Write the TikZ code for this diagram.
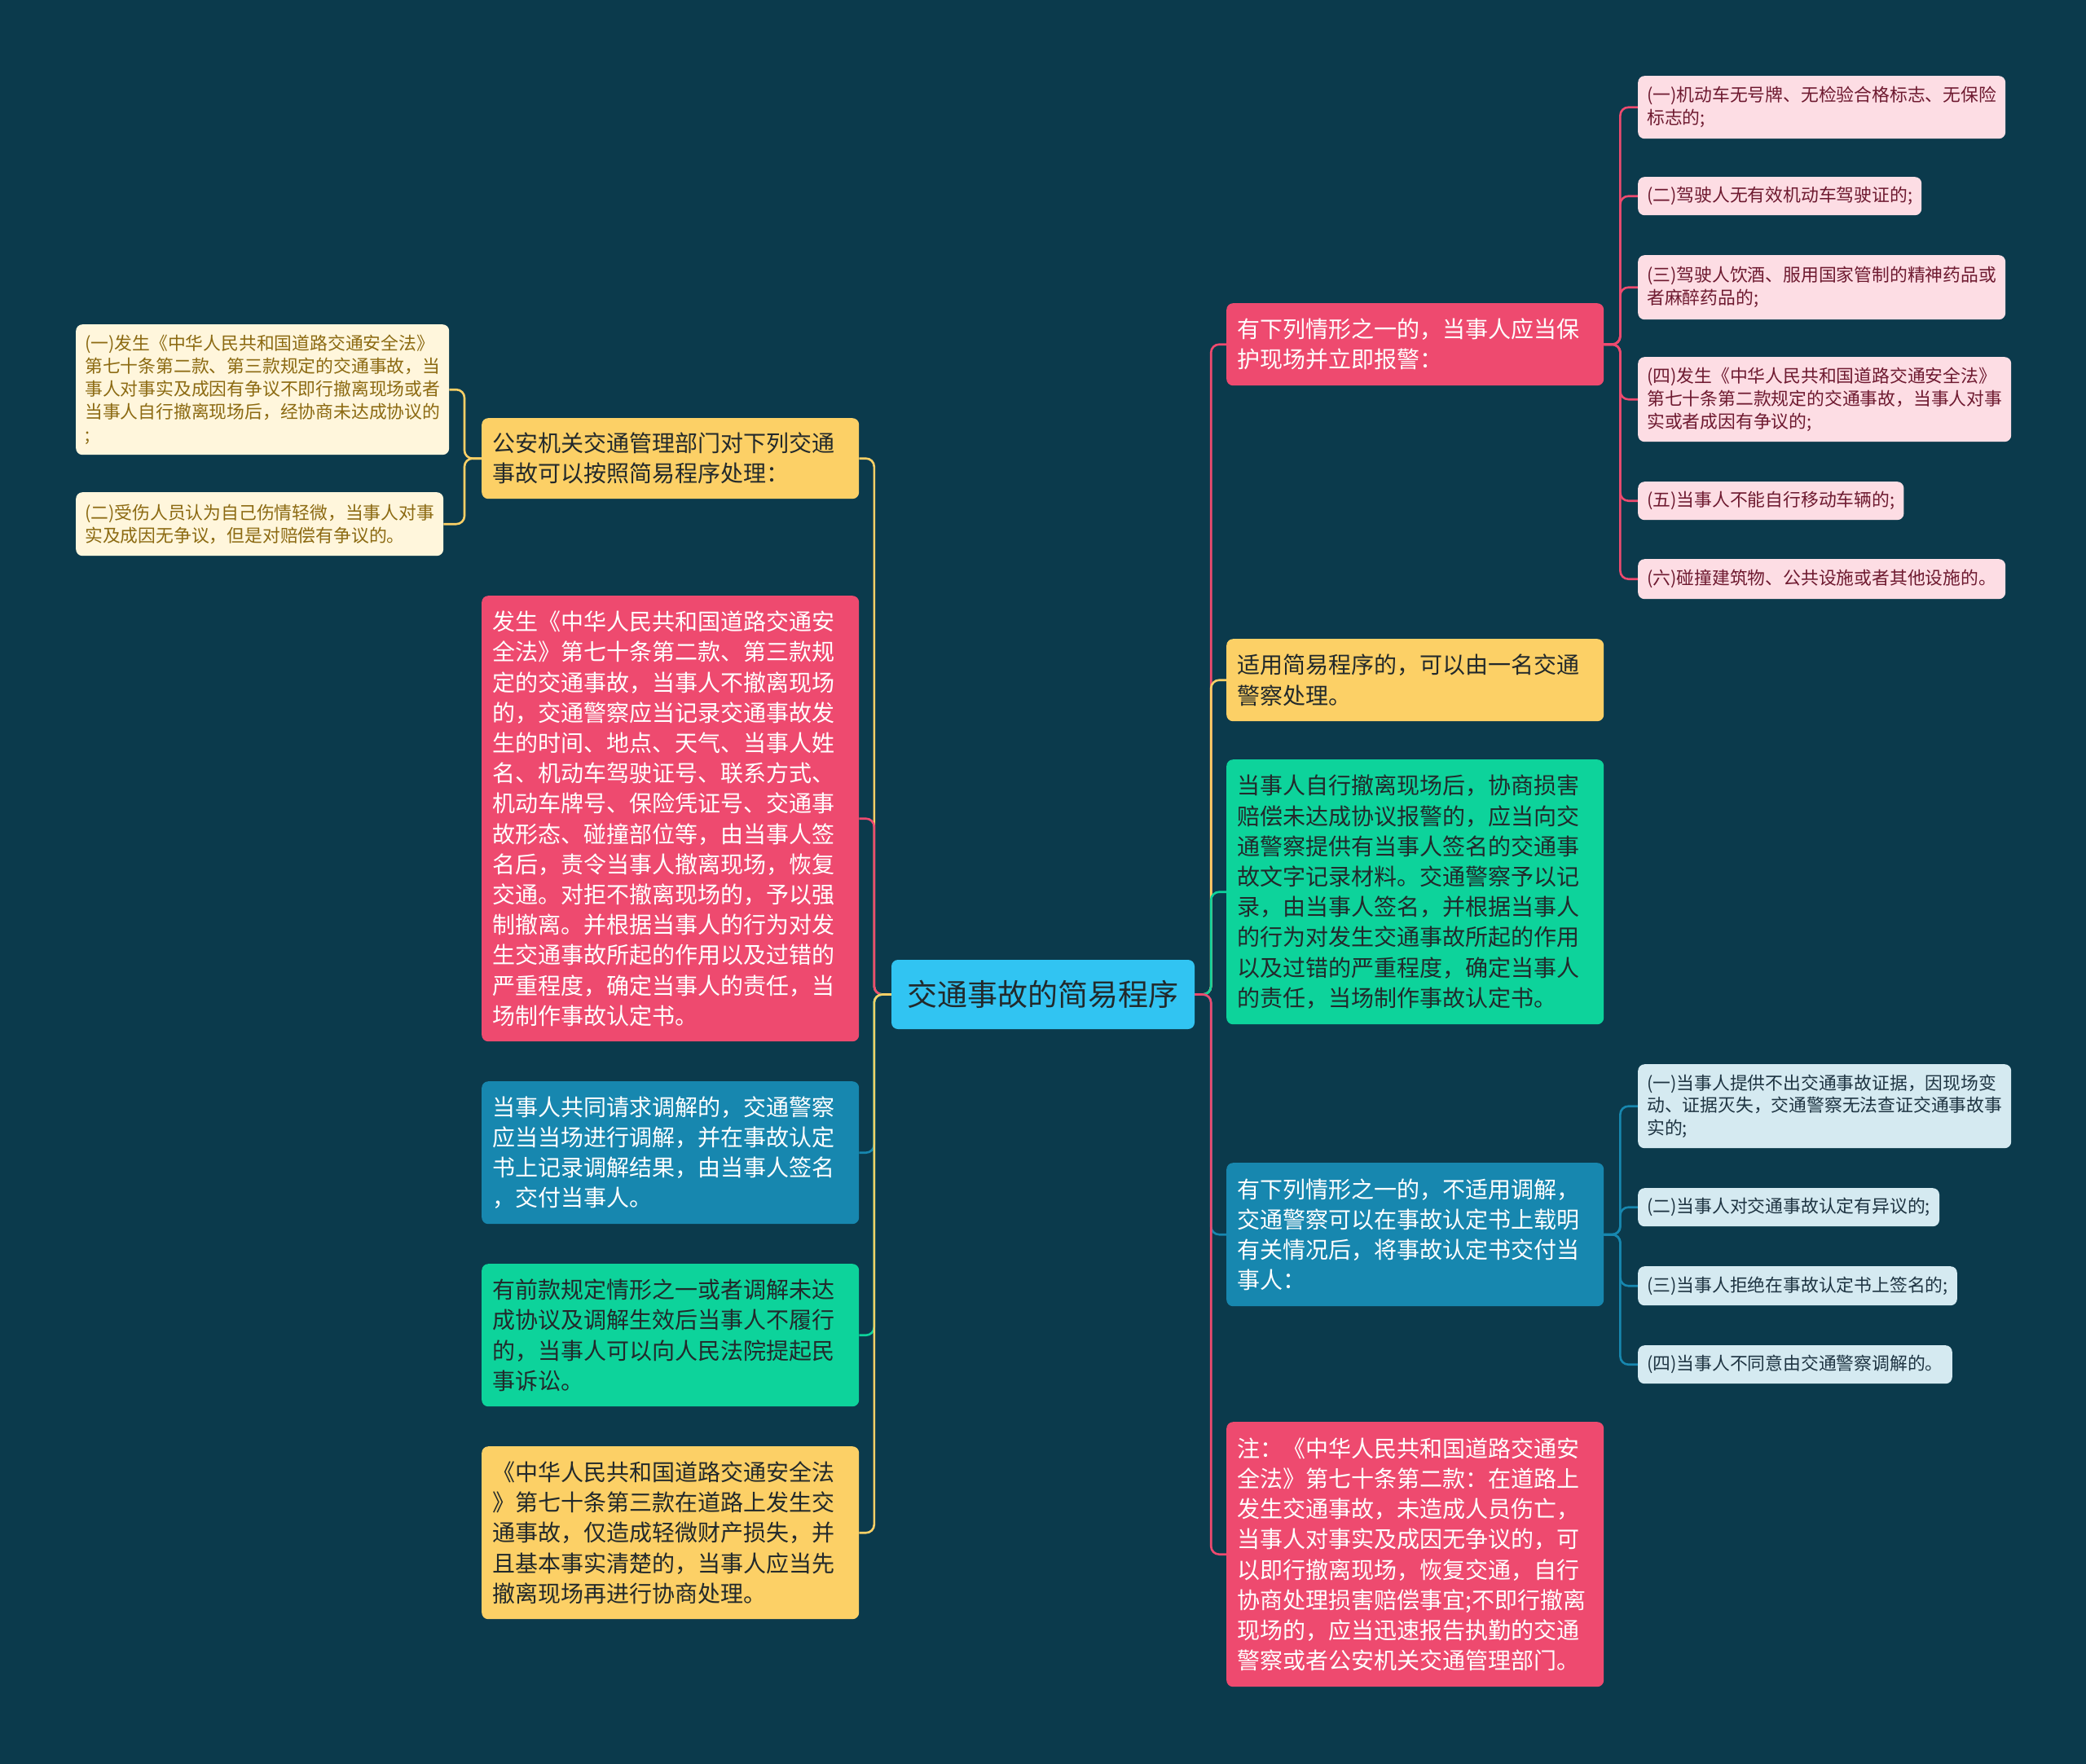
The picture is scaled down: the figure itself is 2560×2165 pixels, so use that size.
\documentclass[tikz,border=0pt]{standalone}
\usepackage{fontspec}
\setmainfont{Noto Sans CJK SC}
\usepackage{xcolor}
\usetikzlibrary{positioning,backgrounds}

\definecolor{bgteal}{HTML}{0B3A4C}
\definecolor{croot}{HTML}{31C4F2}
\definecolor{cred}{HTML}{EE4A6F}
\definecolor{cyel}{HTML}{FCD066}
\definecolor{cblu}{HTML}{1787AF}
\definecolor{cgrn}{HTML}{0DD39B}
\definecolor{lyel}{HTML}{FFF6DC}
\definecolor{lred}{HTML}{FDDDE4}
\definecolor{lblu}{HTML}{D5EAF1}
\definecolor{tdark}{HTML}{22292B}
\definecolor{tbrown}{HTML}{8C6A12}
\definecolor{tmaroon}{HTML}{6E1A30}
\definecolor{tnavy}{HTML}{1E3442}

\begin{document}
\begin{tikzpicture}[x=1pt, y=-1pt,
  rootbox/.style={fill=croot, rounded corners=8pt, minimum width=372pt, minimum height=85pt, inner sep=0pt, text=tdark, font=\fontsize{37}{40}\selectfont},
  mainbox/.style={rounded corners=8pt, anchor=north west, text width=437pt, inner xsep=13pt, inner ysep=4pt, align=left, font=\fontsize{28}{37.2}\selectfont},
  leafbox/.style={rounded corners=8pt, anchor=north west, inner xsep=11pt, inner ysep=3pt, align=left, font=\fontsize{21.8}{27.8}\selectfont},
  link/.style={line width=2.6pt, rounded corners=10pt}]
\useasboundingbox (0,0) rectangle (2560,2165);

% centre
\node[rootbox] (root) at (1280,1220.5) {交通事故的简易程序};

% left branches
\node[mainbox, fill=cyel, text=tdark, minimum height=99pt] (proc) at (591,513) {公安机关交通管理部门对下列交通\\事故可以按照简易程序处理：};
\node[mainbox, fill=cred, text=white, minimum height=547pt] (record) at (591,731) {发生《中华人民共和国道路交通安\\全法》第七十条第二款、第三款规\\定的交通事故，当事人不撤离现场\\的，交通警察应当记录交通事故发\\生的时间、地点、天气、当事人姓\\名、机动车驾驶证号、联系方式、\\机动车牌号、保险凭证号、交通事\\故形态、碰撞部位等，由当事人签\\名后，责令当事人撤离现场，恢复\\交通。对拒不撤离现场的，予以强\\制撤离。并根据当事人的行为对发\\生交通事故所起的作用以及过错的\\严重程度，确定当事人的责任，当\\场制作事故认定书。};
\node[mainbox, fill=cblu, text=white, minimum height=175pt] (mediate) at (591,1327) {当事人共同请求调解的，交通警察\\应当当场进行调解，并在事故认定\\书上记录调解结果，由当事人签名\\，交付当事人。};
\node[mainbox, fill=cgrn, text=tdark, minimum height=175pt] (court) at (591,1551) {有前款规定情形之一或者调解未达\\成协议及调解生效后当事人不履行\\的，当事人可以向人民法院提起民\\事诉讼。};
\node[mainbox, fill=cyel, text=tdark, minimum height=212pt] (minor) at (591,1775) {《中华人民共和国道路交通安全法\\》第七十条第三款在道路上发生交\\通事故，仅造成轻微财产损失，并\\且基本事实清楚的，当事人应当先\\撤离现场再进行协商处理。};

% leaves of proc
\node[leafbox, fill=lyel, text=tbrown, minimum height=160pt] (proca) at (93,398) {(一)发生《中华人民共和国道路交通安全法》\\第七十条第二款、第三款规定的交通事故，当\\事人对事实及成因有争议不即行撤离现场或者\\当事人自行撤离现场后，经协商未达成协议的\\;};
\node[leafbox, fill=lyel, text=tbrown, minimum height=78pt] (procb) at (93,604) {(二)受伤人员认为自己伤情轻微，当事人对事\\实及成因无争议，但是对赔偿有争议的。};

% right branches
\node[mainbox, fill=cred, text=white, minimum height=101pt] (alarm) at (1505,372) {有下列情形之一的，当事人应当保\\护现场并立即报警：};
\node[mainbox, fill=cyel, text=tdark, minimum height=101pt] (single) at (1505,784) {适用简易程序的，可以由一名交通\\警察处理。};
\node[mainbox, fill=cgrn, text=tdark, minimum height=325pt] (leave) at (1505,932) {当事人自行撤离现场后，协商损害\\赔偿未达成协议报警的，应当向交\\通警察提供有当事人签名的交通事\\故文字记录材料。交通警察予以记\\录，由当事人签名，并根据当事人\\的行为对发生交通事故所起的作用\\以及过错的严重程度，确定当事人\\的责任，当场制作事故认定书。};
\node[mainbox, fill=cblu, text=white, minimum height=176pt] (nomed) at (1505,1427) {有下列情形之一的，不适用调解，\\交通警察可以在事故认定书上载明\\有关情况后，将事故认定书交付当\\事人：};
\node[mainbox, fill=cred, text=white, minimum height=325pt] (note) at (1505,1745) {注：《中华人民共和国道路交通安\\全法》第七十条第二款：在道路上\\发生交通事故，未造成人员伤亡，\\当事人对事实及成因无争议的，可\\以即行撤离现场，恢复交通，自行\\协商处理损害赔偿事宜;不即行撤离\\现场的，应当迅速报告执勤的交通\\警察或者公安机关交通管理部门。};

% leaves of alarm
\node[leafbox, fill=lred, text=tmaroon, minimum height=77pt] (alarma) at (2010,93) {(一)机动车无号牌、无检验合格标志、无保险\\标志的;};
\node[leafbox, fill=lred, text=tmaroon, minimum height=47pt] (alarmb) at (2010,217) {(二)驾驶人无有效机动车驾驶证的;};
\node[leafbox, fill=lred, text=tmaroon, minimum height=79pt] (alarmc) at (2010,313) {(三)驾驶人饮酒、服用国家管制的精神药品或\\者麻醉药品的;};
\node[leafbox, fill=lred, text=tmaroon, minimum height=104pt] (alarmd) at (2010,438) {(四)发生《中华人民共和国道路交通安全法》\\第七十条第二款规定的交通事故，当事人对事\\实或者成因有争议的;};
\node[leafbox, fill=lred, text=tmaroon, minimum height=47pt] (alarme) at (2010,591) {(五)当事人不能自行移动车辆的;};
\node[leafbox, fill=lred, text=tmaroon, minimum height=49pt] (alarmf) at (2010,686) {(六)碰撞建筑物、公共设施或者其他设施的。};

% leaves of nomed
\node[leafbox, fill=lblu, text=tnavy, minimum height=103pt] (nomeda) at (2010,1306) {(一)当事人提供不出交通事故证据，因现场变\\动、证据灭失，交通警察无法查证交通事故事\\实的;};
\node[leafbox, fill=lblu, text=tnavy, minimum height=47pt] (nomedb) at (2010,1458) {(二)当事人对交通事故认定有异议的;};
\node[leafbox, fill=lblu, text=tnavy, minimum height=48pt] (nomedc) at (2010,1554) {(三)当事人拒绝在事故认定书上签名的;};
\node[leafbox, fill=lblu, text=tnavy, minimum height=47pt] (nomedd) at (2010,1651) {(四)当事人不同意由交通警察调解的。};

\begin{scope}[on background layer]
\fill[bgteal] (0,0) rectangle (2560,2165);
% root to main branches
\draw[link, cyel] (root.west) -- ++(-21,0) |- (proc.east);
\draw[link, cred] (root.west) -- ++(-21,0) |- (record.east);
\draw[link, cblu] (root.west) -- ++(-21,0) |- (mediate.east);
\draw[link, cgrn] (root.west) -- ++(-21,0) |- (court.east);
\draw[link, cyel] (root.west) -- ++(-21,0) |- (minor.east);
\draw[link, cred] (root.east) -- ++(20,0) |- (alarm.west);
\draw[link, cyel] (root.east) -- ++(20,0) |- (single.west);
\draw[link, cgrn] (root.east) -- ++(20,0) |- (leave.west);
\draw[link, cblu] (root.east) -- ++(20,0) |- (nomed.west);
\draw[link, cred] (root.east) -- ++(20,0) |- (note.west);
% main branches to leaves
\foreach \leaf in {proca,procb}
  \draw[link, cyel] (proc.west) -- ++(-21,0) |- (\leaf.east);
\foreach \leaf in {alarma,alarmb,alarmc,alarmd,alarme,alarmf}
  \draw[link, cred] (alarm.east) -- ++(20,0) |- (\leaf.west);
\foreach \leaf in {nomeda,nomedb,nomedc,nomedd}
  \draw[link, cblu] (nomed.east) -- ++(20,0) |- (\leaf.west);
\end{scope}
\end{tikzpicture}
\end{document}
